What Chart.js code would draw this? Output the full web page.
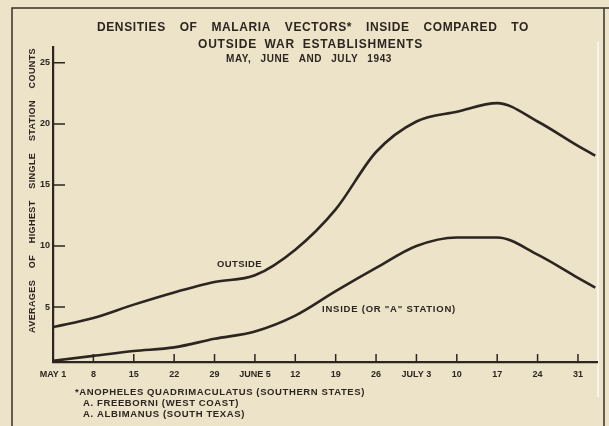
<!DOCTYPE html>
<html>
<head>
<meta charset="utf-8">
<script src="https://cdn.jsdelivr.net/npm/chart.js@4"></script>
<style>
    html, body { margin: 0; padding: 0; background: #ece3c9; }
    canvas { display: block; }
</style>
</head>
<body>
<canvas id="malariaChart" width="609" height="426"></canvas>
<script>
// =========================================================================
// DENSITIES OF MALARIA VECTORS - MAY, JUNE AND JULY 1943
// x = days counted from May 1
// =========================================================================

const weekDays = [0, 7, 14, 21, 28, 35, 42, 49, 56, 63, 70, 77, 84, 91, 94];
const outsideCounts = [3.35, 4.1, 5.2, 6.2, 7.05, 7.6, 9.7, 13.0, 17.7, 20.2, 21.0, 21.7, 20.2, 18.2, 17.4];
const insideCounts = [0.6, 1.0, 1.4, 1.7, 2.4, 3.0, 4.3, 6.3, 8.2, 10.0, 10.7, 10.7, 9.3, 7.4, 6.6];

const xTickDays = [0, 7, 14, 21, 28, 35, 42, 49, 56, 63, 70, 77, 84, 91];
const xTickLabels = ['MAY 1', '8', '15', '22', '29', 'JUNE 5', '12', '19', '26', 'JULY 3', '10', '17', '24', '31'];
const yTickValues = [5, 10, 15, 20, 25];

const titleLines = [
    'DENSITIES OF MALARIA VECTORS* INSIDE COMPARED TO',
    'OUTSIDE WAR ESTABLISHMENTS',
    'MAY, JUNE AND JULY 1943'
];
const yAxisTitle = 'AVERAGES OF HIGHEST SINGLE STATION COUNTS';
const footnotes = [
    '*ANOPHELES QUADRIMACULATUS (SOUTHERN STATES)',
    'A. FREEBORNI (WEST COAST)',
    'A. ALBIMANUS (SOUTH TEXAS)'
];

const INK = '#2d251f';
const FONT = '"Liberation Sans", Arial, sans-serif';

// Stretch a line of text between left and right using letter + word spacing
function fitText(ctx, text, left, right, y, letterSp) {
    ctx.letterSpacing = letterSp + 'px';
    ctx.wordSpacing = '0px';
    const natural = ctx.measureText(text).width;
    const spaces = (text.match(/ /g) || []).length;
    if (spaces > 0) {
        ctx.wordSpacing = ((right - left - natural) / spaces) + 'px';
    }
    ctx.fillText(text, left, y);
    ctx.letterSpacing = '0px';
    ctx.wordSpacing = '0px';
}

// Stretch using letter spacing only
function spreadText(ctx, text, left, right, y) {
    ctx.letterSpacing = '0px';
    const natural = ctx.measureText(text).width;
    ctx.letterSpacing = ((right - left - natural) / text.length) + 'px';
    ctx.fillText(text, left, y);
    ctx.letterSpacing = '0px';
}

const annotations = {
    id: 'annotations',
    beforeDraw(chart) {
        const ctx = chart.ctx;
        ctx.save();
        ctx.fillStyle = '#ece3c9';
        ctx.fillRect(0, 0, chart.width, chart.height);

        // frame of the printed figure
        ctx.strokeStyle = '#3a322b';
        ctx.lineWidth = 1.5;
        ctx.beginPath();
        ctx.moveTo(12, 426);
        ctx.lineTo(12, 8);
        ctx.lineTo(609, 8);
        ctx.moveTo(604, 8);
        ctx.lineTo(604, 426);
        ctx.stroke();
        ctx.strokeStyle = 'rgba(255,255,255,0.85)';
        ctx.beginPath();
        ctx.moveTo(598, 42);
        ctx.lineTo(598, 397);
        ctx.stroke();
        ctx.restore();
    },
    afterDraw(chart) {
        const {ctx, chartArea, scales} = chart;
        ctx.save();
        ctx.fillStyle = INK;
        ctx.textBaseline = 'middle';
        ctx.textAlign = 'left';

        // title
        ctx.font = 'bold 12px ' + FONT;
        fitText(ctx, titleLines[0], 97, 529, 28, 0.6);
        fitText(ctx, titleLines[1], 198, 423, 45, 0.8);
        ctx.font = 'bold 10px ' + FONT;
        fitText(ctx, titleLines[2], 226, 392, 59, 0.6);

        // y axis title (vertical)
        ctx.save();
        ctx.translate(33, 333);
        ctx.rotate(-Math.PI / 2);
        ctx.font = 'bold 9px ' + FONT;
        fitText(ctx, yAxisTitle, 0, 285, 0, 0.4);
        ctx.restore();

        // curve labels
        ctx.font = 'bold 9.5px ' + FONT;
        spreadText(ctx, 'OUTSIDE', 217, 262, 264);
        spreadText(ctx, 'INSIDE (OR "A" STATION)', 322, 456, 309);

        // footnotes
        spreadText(ctx, footnotes[0], 75, 365, 392);
        spreadText(ctx, footnotes[1], 83, 239, 403);
        spreadText(ctx, footnotes[2], 83, 245, 414);

        // tick marks pointing into the plot
        ctx.strokeStyle = INK;
        ctx.lineWidth = 1.5;
        ctx.beginPath();
        scales.x.ticks.forEach(t => {
            if (t.value === 0) return;
            const x = scales.x.getPixelForValue(t.value);
            ctx.moveTo(x, chartArea.bottom);
            ctx.lineTo(x, chartArea.bottom - 8);
        });
        scales.y.ticks.forEach(t => {
            const y = scales.y.getPixelForValue(t.value);
            ctx.moveTo(chartArea.left, y);
            ctx.lineTo(chartArea.left + 12, y);
        });
        ctx.stroke();
        ctx.restore();
    }
};

const ctx = document.getElementById('malariaChart').getContext('2d');

new Chart(ctx, {
    type: 'line',
    data: {
        datasets: [
            {
                label: 'Outside',
                data: weekDays.map((d, i) => ({x: d, y: outsideCounts[i]})),
                borderColor: INK,
                borderWidth: 2.6,
                pointRadius: 0,
                fill: false,
                cubicInterpolationMode: 'monotone'
            },
            {
                label: 'Inside (or "A" station)',
                data: weekDays.map((d, i) => ({x: d, y: insideCounts[i]})),
                borderColor: INK,
                borderWidth: 2.6,
                pointRadius: 0,
                fill: false,
                cubicInterpolationMode: 'monotone'
            }
        ]
    },
    options: {
        responsive: false,
        animation: false,
        layout: {
            padding: {top: 47, right: 12, left: 0, bottom: 0}
        },
        plugins: {
            legend: {display: false},
            tooltip: {enabled: false},
            title: {display: false}
        },
        scales: {
            x: {
                type: 'linear',
                min: 0,
                max: 94.3,
                grid: {display: true, drawOnChartArea: false, drawTicks: false},
                border: {display: true, color: INK, width: 2.2},
                afterBuildTicks: scale => {
                    scale.ticks = xTickDays.map(v => ({value: v}));
                },
                afterFit: scale => { scale.height = 64; },
                ticks: {
                    autoSkip: false,
                    maxRotation: 0,
                    padding: 7,
                    color: INK,
                    font: {family: FONT, size: 9, weight: 'bold'},
                    callback: value => xTickLabels[xTickDays.indexOf(value)]
                }
            },
            y: {
                type: 'linear',
                min: 0.5,
                max: 26.3,
                grid: {display: true, drawOnChartArea: false, drawTicks: false},
                border: {display: true, color: INK, width: 2.2},
                afterBuildTicks: scale => {
                    scale.ticks = yTickValues.map(v => ({value: v}));
                },
                afterFit: scale => { scale.width = 53; },
                ticks: {
                    padding: 3,
                    color: INK,
                    font: {family: FONT, size: 9, weight: 'bold'}
                }
            }
        }
    },
    plugins: [annotations]
});
</script>
</body>
</html>
